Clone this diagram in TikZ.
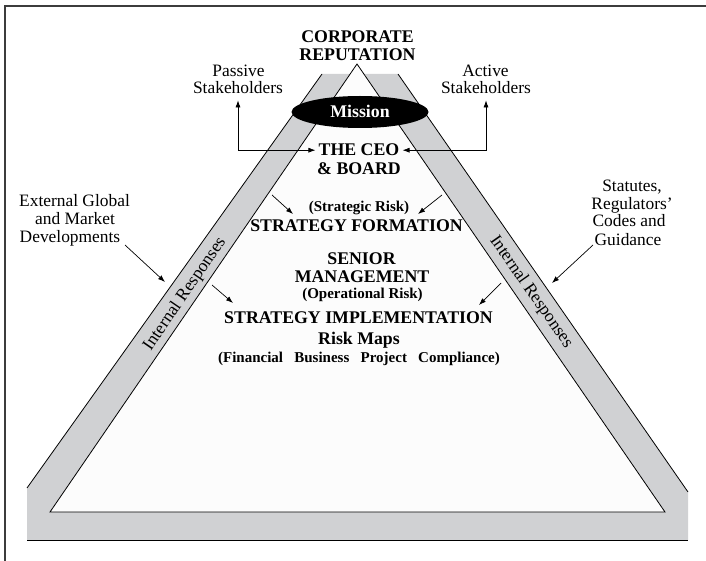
\documentclass[tikz,border=0pt]{standalone}
\usepackage{fontspec}
\setmainfont{Liberation Serif}
\usetikzlibrary{arrows.meta,calc,shapes.geometric}
\definecolor{bandgrey}{RGB}{208,209,211}
\definecolor{paper}{RGB}{252,252,252}
\definecolor{framegrey}{RGB}{60,60,60}

\begin{document}
\begin{tikzpicture}[x=1pt,y=-1pt,
  lbl/.style={font=\fontsize{17.4}{18}\selectfont, inner sep=2pt, anchor=base},
  ttl/.style={font=\fontsize{17.8}{18}\selectfont\bfseries, inner sep=3pt, anchor=base},
  sub/.style={font=\fontsize{15}{16}\selectfont\bfseries, inner sep=2pt, anchor=base},
  side/.style={font=\fontsize{17.5}{18}\selectfont, inner sep=0pt},
  tip/.style={line width=0.7pt, -{Latex[length=7pt,width=5pt]}},
  twotip/.style={line width=0.7pt, {Latex[length=7pt,width=5pt]}-{Latex[length=7pt,width=5pt]}},
  outline/.style={line width=0.8pt, line join=miter}]

\useasboundingbox (0,0) rectangle (706,561);

% page frame, open to the right and bottom
\draw[line width=1.6pt, framegrey] (5,561) -- (5,6) -- (706,6);

% grey band round the pyramid
\fill[bandgrey] (27,540) -- (27,488) -- (322,74) -- (398,74) -- (688,492) -- (688,540) -- cycle;
\draw[outline] (27,488) -- (322,74);
\draw[outline] (398,74) -- (688,492);
\draw[outline] (27,540) -- (688,540);

% inner pyramid
\filldraw[outline, fill=paper] (357,64) -- (50,512) -- (665,512) -- cycle;

% mission ellipse
\node[ellipse, fill=black, minimum width=137pt, minimum height=32pt, inner sep=0pt] (missionshape) at (360,112) {};
\node[font=\fontsize{17.8}{18}\selectfont\bfseries, text=white, inner sep=0pt] (mission) at (360,111) {Mission};

% titles inside and above the pyramid
\node[ttl] (corp1) at (357.5,43) {CORPORATE};
\node[ttl] (corp2) at (357.5,61) {REPUTATION};
\node[ttl] (ceo) at (359,156) {THE CEO};
\node[ttl] (board) at (359,175) {\& BOARD};
\node[sub] (strisk) at (359,212) {(Strategic Risk)};
\node[ttl] (strform) at (356.5,232) {STRATEGY FORMATION};
\node[ttl] (sen1) at (361.5,264) {SENIOR};
\node[ttl] (sen2) at (362,282) {MANAGEMENT};
\node[sub] (oprisk) at (362.5,298) {(Operational Risk)};
\node[ttl] (impl) at (358.5,323) {STRATEGY IMPLEMENTATION};
\node[ttl] (maps) at (359,344) {Risk Maps};
\node[sub] (cats) at (359,362) {(Financial\hspace{0.75em}Business\hspace{0.75em}Project\hspace{0.75em}Compliance)};

% stakeholders
\node[lbl] (pass1) at (238.5,77) {Passive};
\node[lbl] (pass2) at (238,94) {Stakeholders};
\node[lbl] (act1) at (485.5,77) {Active};
\node[lbl] (act2) at (486,94) {Stakeholders};

% outside influences
\node[lbl] (ext1) at (74.5,207) {External Global};
\node[lbl] (ext2) at (75,225) {and Market};
\node[lbl] (ext3) at (70,243) {Developments};
\node[lbl] (stat1) at (632,192) {Statutes,};
\node[lbl] (stat2) at (632,210) {Regulators’};
\node[lbl] (stat3) at (629,227) {Codes and};
\node[lbl] (stat4) at (628,245) {Guidance};

% band labels
\node[side, rotate=55.5] (intL) at (185,294) {Internal Responses};
\node[side, rotate=-55] (intR) at (531,292) {Internal Responses};

% stakeholder links to the board
\draw[twotip, shorten <=4pt] (pass2.south) |- (ceo.west);
\draw[twotip, shorten <=4pt] (act2.south) |- (ceo.east);

% influence arrows
\coordinate (extfrom) at (125,245);
\coordinate (extto) at (165,282);
\coordinate (inLfrom) at (212,285);
\coordinate (inLto) at (233,303);
\coordinate (ceoLfrom) at (272,195);
\coordinate (ceoLto) at (293,214);
\coordinate (ceoRfrom) at (442,195);
\coordinate (ceoRto) at (418,214);
\coordinate (inRfrom) at (501,283);
\coordinate (inRto) at (479,305);
\coordinate (statfrom) at (593,245);
\coordinate (statto) at (552,283);

\draw[tip] (extfrom) -- (extto);
\draw[tip] (inLfrom) -- (inLto);
\draw[tip] (ceoLfrom) -- (ceoLto);
\draw[tip] (ceoRfrom) -- (ceoRto);
\draw[tip] (inRfrom) -- (inRto);
\draw[tip] (statfrom) -- (statto);
\end{tikzpicture}
\end{document}
